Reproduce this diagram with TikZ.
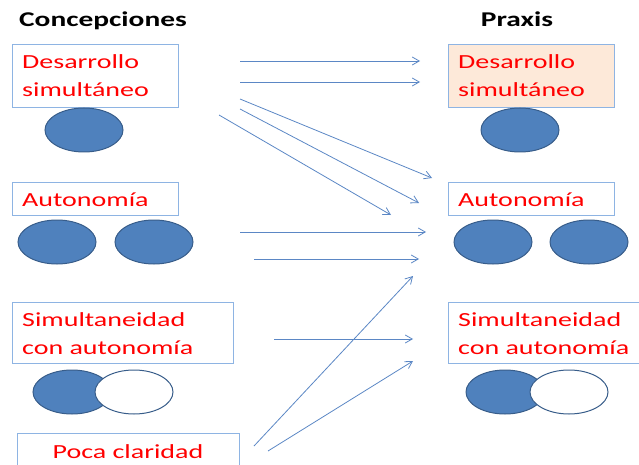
\documentclass[tikz,border=0pt]{standalone}
\usepackage{fontspec}
\setmainfont{Carlito}
\newfontfamily\widefont[FakeStretch=1.4]{Carlito}
\usetikzlibrary{arrows.meta,shapes.geometric}
\definecolor{boxline}{HTML}{8EB4E3}
\definecolor{efill}{HTML}{4F81BD}
\definecolor{eline}{HTML}{385D8A}
\definecolor{arr}{HTML}{5B87C5}
\definecolor{peach}{HTML}{FDE9D9}
\begin{document}
\begin{tikzpicture}[x=1pt,y=-1pt,
  box/.style={draw=boxline, line width=1.1pt, anchor=north west, inner sep=0pt},
  lbl/.style={text=red, font=\widefont\fontsize{20}{28}\selectfont, anchor=base west, inner sep=0pt, align=left},
  ttl/.style={font=\widefont\bfseries\fontsize{21}{24}\selectfont, inner sep=0pt, anchor=base},
  ell/.style={ellipse, draw=eline, line width=1pt, fill=efill, minimum width=78pt, minimum height=44pt, inner sep=0pt},
  wel/.style={ell, fill=white},
  con/.style={draw=arr, line width=0.8pt, -{Straight Barb[length=7pt,width=8pt]}}]
\useasboundingbox (0,0) rectangle (639,465);
% titles
\node[ttl] (tc) at (103,27) {Concepciones};
\node[ttl] (tp) at (517,27) {Praxis};
% left column
\node[box, minimum width=166pt, minimum height=63pt] (b1) at (12,44) {};
\node[lbl] (l1) at (22,97) {Desarrollo\\simultáneo};
\node[ell] (e1) at (84,130) {};
\node[box, minimum width=166pt, minimum height=33pt] (b2) at (12,182) {};
\node[lbl] (l2) at (22,206) {Autonomía};
\node[ell] (e2a) at (57,242) {};
\node[ell] (e2b) at (154,242) {};
\node[box, minimum width=221pt, minimum height=61pt] (b3) at (12,302) {};
\node[lbl] (l3) at (22,354) {Simultaneidad\\con autonomía};
\node[ell] (e3a) at (72,392) {};
\node[wel] (e3b) at (134,392) {};
\node[box, minimum width=222pt, minimum height=40pt] (b4) at (17,433) {};
\node[lbl, anchor=base] (l4) at (128,458) {Poca claridad};
% right column
\node[box, fill=peach, minimum width=166pt, minimum height=63pt] (r1) at (448,44) {};
\node[lbl] (m1) at (458,97) {Desarrollo\\simultáneo};
\node[ell] (f1) at (520,130) {};
\node[box, minimum width=166pt, minimum height=33pt] (r2) at (448,182) {};
\node[lbl] (m2) at (458,206) {Autonomía};
\node[ell] (f2a) at (493,242) {};
\node[ell] (f2b) at (589,242) {};
\node[box, minimum width=200pt, minimum height=61pt] (r3) at (448,302) {};
\node[lbl] (m3) at (458,354) {Simultaneidad\\con autonomía};
\node[ell] (f3a) at (505,392) {};
\node[wel] (f3b) at (569,392) {};
% connector end points
\coordinate (s1) at (240,61);  \coordinate (t1) at (420,61);
\coordinate (s2) at (240,82);  \coordinate (t2) at (420,82);
\coordinate (s3) at (240,99);  \coordinate (t3) at (432,178);
\coordinate (s4) at (240,109); \coordinate (t4) at (419,203);
\coordinate (s5) at (219,115); \coordinate (t5) at (391,215);
\coordinate (s6) at (240,232); \coordinate (t6) at (426,232);
\coordinate (s7) at (254,259); \coordinate (t7) at (419,259);
\coordinate (s8) at (254,446); \coordinate (t8) at (413,276);
\coordinate (s9) at (274,339); \coordinate (t9) at (413,339);
\coordinate (s10) at (268,451); \coordinate (t10) at (413,361);
\foreach \i in {1,...,10} {\draw[con] (s\i) -- (t\i);}
\end{tikzpicture}
\end{document}
